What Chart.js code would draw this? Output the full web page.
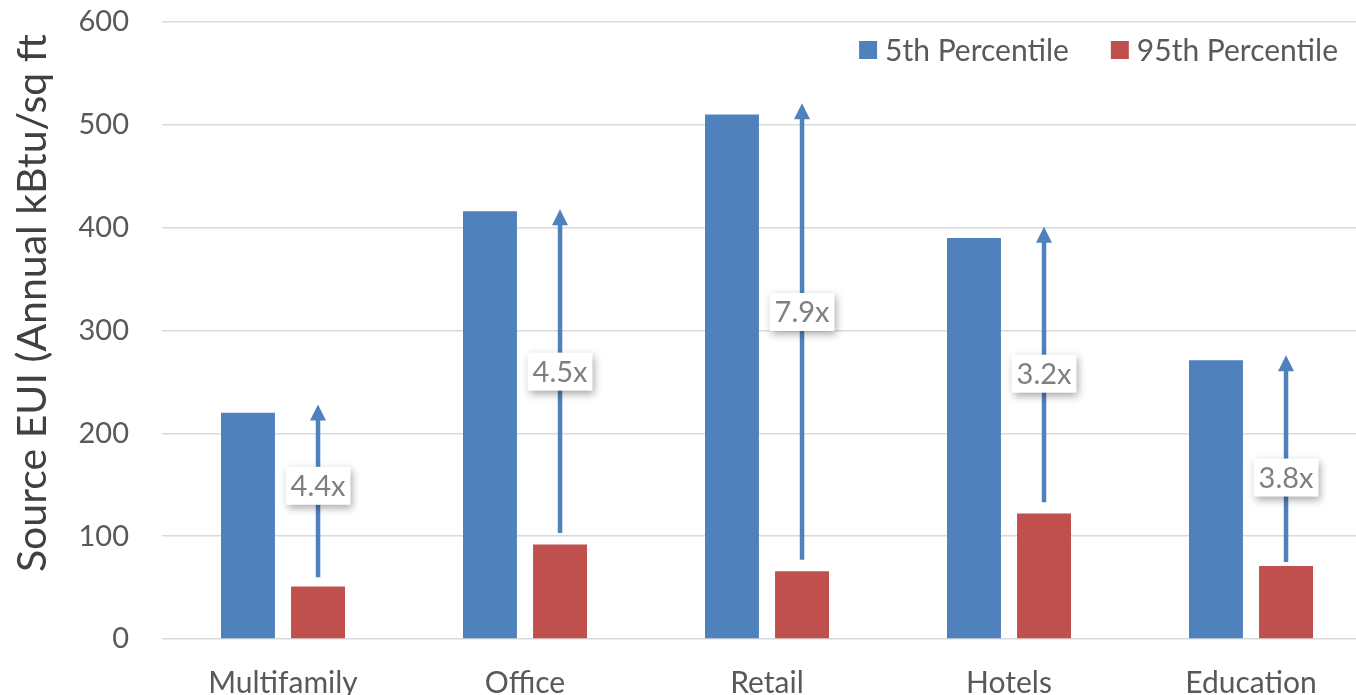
<!DOCTYPE html>
<html lang="en">
<head>
    <meta charset="UTF-8">
    <title>Source EUI by Building Type</title>
    <script src="https://cdn.jsdelivr.net/npm/chart.js"></script>
    <style>
        body {
            margin: 0;
            background: #ffffff;
            overflow: hidden;
        }
        .chart-box {
            width: 1372px;
            height: 695px;
        }
    </style>
</head>
<body>
    <div class="chart-box">
        <canvas id="euiChart" width="1372" height="695"></canvas>
    </div>

    <script>
        // Data
        const categories = ['Multifamily', 'Office', 'Retail', 'Hotels', 'Education'];
        const p5Values = [220, 416, 510, 390, 271];
        const p95Values = [51, 92, 66, 122, 71];

        // arrows between the two percentiles (in kBtu/sq ft)
        const arrowFrom = [60, 103, 77, 133, 75];
        const arrowTo = [228, 418, 521, 401, 276];
        const ratioLabelAt = [149, 260, 318, 258, 157];
        const ratioLabels = ['4.4x', '4.5x', '7.9x', '3.2x', '3.8x'];

        const yTicks = [0, 100, 200, 300, 400, 500, 600];
        const yTitle = 'Source EUI (Annual kBtu/sq ft';

        const BLUE = '#4f81bd';
        const RED = '#c0504d';
        const TEXT = '#595959';

        Chart.defaults.font.family = 'Lato, "Open Sans", sans-serif';
        Chart.defaults.color = TEXT;

        // Arrows, ratio boxes, legend and axis title
        const overlayPlugin = {
            id: 'overlay',
            afterDatasetsDraw(chart) {
                const ctx = chart.ctx;
                const y = chart.scales.y;
                const redBars = chart.getDatasetMeta(1).data;

                // arrows
                ctx.save();
                ctx.strokeStyle = BLUE;
                ctx.fillStyle = BLUE;
                ctx.lineWidth = 4.5;
                redBars.forEach((bar, i) => {
                    const x = bar.x;
                    const y0 = y.getPixelForValue(arrowFrom[i]);
                    const y1 = y.getPixelForValue(arrowTo[i]);
                    ctx.beginPath();
                    ctx.moveTo(x, y0);
                    ctx.lineTo(x, y1 + 12);
                    ctx.stroke();
                    ctx.beginPath();
                    ctx.moveTo(x, y1);
                    ctx.lineTo(x - 8, y1 + 16);
                    ctx.lineTo(x + 8, y1 + 16);
                    ctx.closePath();
                    ctx.fill();
                });
                ctx.restore();

                // ratio boxes
                ctx.save();
                ctx.font = '29px Lato, "Open Sans", sans-serif';
                ctx.textAlign = 'center';
                ctx.textBaseline = 'middle';
                redBars.forEach((bar, i) => {
                    const x = bar.x;
                    const cy = y.getPixelForValue(ratioLabelAt[i]);
                    const w = ctx.measureText(ratioLabels[i]).width + 10;
                    const h = 38;
                    ctx.save();
                    ctx.shadowColor = 'rgba(0, 0, 0, 0.35)';
                    ctx.shadowBlur = 8;
                    ctx.shadowOffsetX = 2;
                    ctx.shadowOffsetY = 3;
                    ctx.fillStyle = '#ffffff';
                    ctx.fillRect(x - w / 2, cy - h / 2, w, h);
                    ctx.restore();
                    ctx.fillStyle = '#7f7f7f';
                    ctx.fillText(ratioLabels[i], x, cy + 1);
                });
                ctx.restore();

                // legend, laid out right to left
                ctx.save();
                ctx.font = '30px Lato, "Open Sans", sans-serif';
                ctx.textBaseline = 'middle';
                ctx.textAlign = 'left';
                let right = 1338;
                const items = chart.data.datasets.slice().reverse();
                items.forEach(ds => {
                    const tw = ctx.measureText(ds.label).width;
                    const tx = right - tw;
                    const bx = tx - 26;
                    ctx.fillStyle = ds.backgroundColor;
                    ctx.fillRect(bx, 41, 18, 18);
                    ctx.fillStyle = TEXT;
                    ctx.fillText(ds.label, tx, 51);
                    right = bx - 42;
                });
                ctx.restore();

                // y axis title
                ctx.save();
                ctx.font = '41px Lato, "Open Sans", sans-serif';
                ctx.fillStyle = '#404040';
                ctx.translate(46, 572);
                ctx.rotate(-Math.PI / 2);
                ctx.textAlign = 'left';
                ctx.textBaseline = 'alphabetic';
                ctx.fillText(yTitle, 0, 0);
                ctx.restore();
            }
        };

        new Chart(document.getElementById('euiChart'), {
            type: 'bar',
            data: {
                labels: categories,
                datasets: [
                    {
                        label: '5th Percentile',
                        data: p5Values,
                        backgroundColor: BLUE
                    },
                    {
                        label: '95th Percentile',
                        data: p95Values,
                        backgroundColor: RED
                    }
                ]
            },
            options: {
                responsive: false,
                animation: false,
                devicePixelRatio: 1,
                categoryPercentage: 0.579,
                barPercentage: 0.77,
                layout: {
                    padding: { top: 22, left: 0, right: 0, bottom: 0 }
                },
                scales: {
                    x: {
                        grid: { display: false },
                        border: { display: false },
                        ticks: {
                            padding: 18,
                            color: TEXT,
                            font: { size: 30 }
                        },
                        afterFit(scale) {
                            scale.height = 56;
                            scale.paddingLeft = 0;
                            scale.paddingRight = 0;
                        }
                    },
                    y: {
                        min: 0,
                        max: 600,
                        afterBuildTicks(scale) {
                            scale.ticks = yTicks.map(v => ({ value: v }));
                        },
                        grid: {
                            color: '#d9d9d9',
                            lineWidth: 1.5,
                            drawTicks: false
                        },
                        border: { display: false },
                        ticks: {
                            padding: 33,
                            color: TEXT,
                            font: { size: 29 }
                        },
                        afterFit(scale) {
                            scale.width = 162;
                            scale.paddingTop = 0;
                            scale.paddingBottom = 0;
                        }
                    }
                },
                plugins: {
                    legend: { display: false },
                    tooltip: { enabled: false }
                }
            },
            plugins: [overlayPlugin]
        });
    </script>
</body>
</html>
